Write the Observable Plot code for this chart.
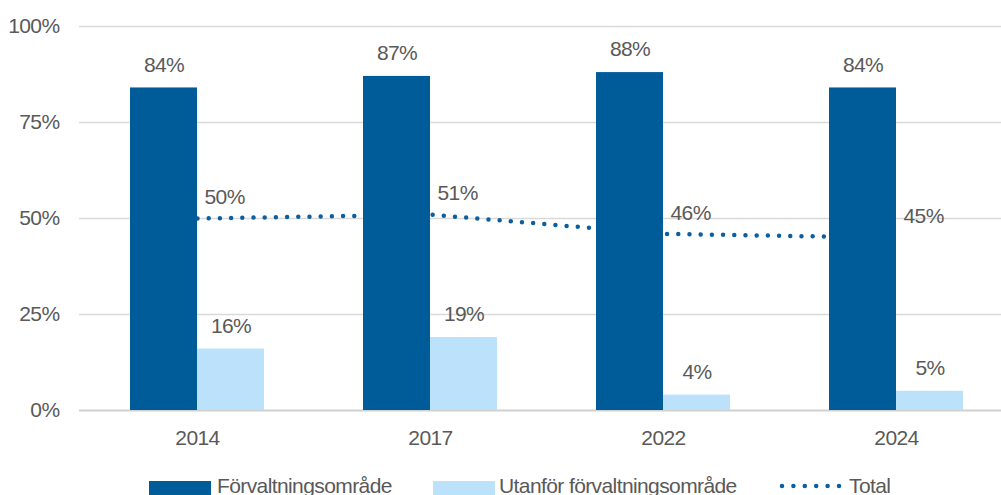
<!DOCTYPE html>
<html>
<head>
<meta charset="utf-8">
<script src="https://cdn.jsdelivr.net/npm/d3@7"></script>
<script src="https://cdn.jsdelivr.net/npm/@observablehq/plot@0.6"></script>
<style>
  html, body { margin: 0; padding: 0; background: #fff; overflow: hidden; }
  #wrap { position: relative; width: 1001px; height: 495px; font-family: "Liberation Sans", Arial, sans-serif; color: #595959; }
  .lg { position: absolute; font-size: 21px; letter-spacing: -0.6px; color: #595959; white-space: nowrap; line-height: 24px; }
  .sw { position: absolute; width: 62px; height: 14px; }
</style>
</head>
<body>
<div id="wrap">
  <div id="chart"></div>
  <div class="sw" style="left:149px; top:481px; background:#005C99"></div>
  <div class="lg" style="left:217px; top:474px">Förvaltningsområde</div>
  <div class="sw" style="left:433px; top:481px; background:#BBE2FA"></div>
  <div class="lg" style="left:499px; top:474px">Utanför förvaltningsområde</div>
  <svg style="position:absolute; left:776px; top:480px" width="70" height="12">
    <line x1="6" y1="6" x2="64" y2="6" stroke="#0B5FA0" stroke-width="4.5" stroke-linecap="round" stroke-dasharray="0 11.4"></line>
  </svg>
  <div class="lg" style="left:849px; top:474px">Total</div>
</div>
<script>
const years = ["2014", "2017", "2022", "2024"];
const forvaltning = [84, 87, 88, 84];
const utanfor = [16, 19, 4, 5];
const total = [50, 51, 46, 45];
const yTicks = [0, 25, 50, 75, 100];

const darkData = years.map((y, i) => ({year: y, value: forvaltning[i]}));
const lightData = years.map((y, i) => ({year: y, value: utanfor[i]}));
const totalData = years.map((y, i) => ({year: y, value: total[i]}));

const DARK = "#005C99";
const LIGHT = "#BBE2FA";
const LINE = "#0B5FA0";
const TEXT = "#595959";
const half = 67;
const FS = 21;

const chart = Plot.plot({
  width: 1001,
  height: 470,
  marginTop: 26,
  marginBottom: 60,
  marginLeft: 79,
  marginRight: 0,
  style: {fontFamily: "Liberation Sans, Arial, sans-serif", fontSize: FS + "px", color: TEXT, background: "#fff", letterSpacing: "-0.6px"},
  x: {domain: years, range: [79, 1013], paddingInner: 0.426, paddingOuter: 0.213, label: null},
  y: {domain: [0, 100], label: null},
  marks: [
    Plot.ruleY(yTicks.filter(d => d > 0), {stroke: "#d9d9d9", strokeWidth: 1.5}),
    Plot.ruleY([0], {stroke: "#d0d0d0", strokeWidth: 2}),
    Plot.axisY({ticks: yTicks, tickSize: 0, tickPadding: 20, tickFormat: d => d + "%", fill: TEXT, fontSize: FS, label: null}),
    Plot.axisX({tickSize: 0, tickPadding: 20, fill: TEXT, fontSize: FS, label: null}),
    Plot.lineY(totalData, {x: "year", y: "value", stroke: LINE, strokeWidth: 4.5, strokeLinecap: "round", strokeDasharray: "0 11.2"}),
    Plot.barY(darkData, {x: "year", y: "value", fill: DARK, insetRight: half}),
    Plot.barY(lightData, {x: "year", y: "value", fill: LIGHT, insetLeft: half}),
    Plot.text(darkData, {x: "year", y: "value", text: d => d.value + "%", dx: -half / 2, dy: -23, fill: TEXT, fontSize: FS, lineAnchor: "middle"}),
    Plot.text(lightData, {x: "year", y: "value", text: d => d.value + "%", dx: half / 2, dy: -23, fill: TEXT, fontSize: FS, lineAnchor: "middle"}),
    Plot.text(totalData, {x: "year", y: "value", text: d => d.value + "%", dx: 7, dy: -21, textAnchor: "start", fill: TEXT, fontSize: FS, lineAnchor: "middle"})
  ]
});
document.getElementById("chart").appendChild(chart);
</script>
</body>
</html>
